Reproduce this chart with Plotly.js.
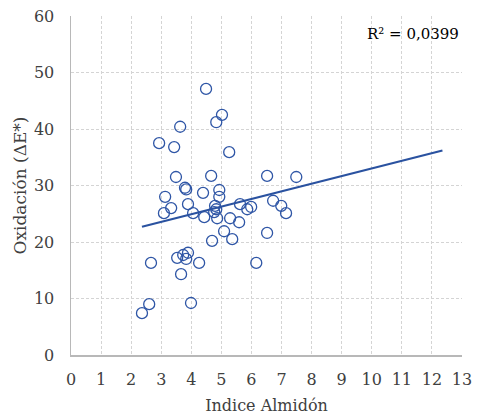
<!DOCTYPE html>
<html>
<head>
<meta charset="utf-8">
<script src="https://cdn.plot.ly/plotly-3.0.1.min.js"></script>
<style>html,body{margin:0;padding:0;background:#fff;}#chart{width:480px;height:418px;}</style>
</head>
<body>
<div id="chart"></div>
<script>
// Indice Almidón (x) vs Oxidación ΔE* (y)
var almidon = [4.49, 5.02, 4.83, 3.63, 2.93, 3.43, 5.26, 3.49, 4.66, 6.52, 7.49,
  3.79, 3.83, 4.39, 4.93, 4.93, 3.13, 3.89, 3.33, 3.09, 4.06, 4.43, 4.79, 4.83,
  4.76, 4.86, 5.29, 5.62, 5.59, 5.86, 5.99, 6.72, 6.99, 7.15, 5.09, 5.36, 6.52,
  4.69, 2.66, 3.53, 3.73, 3.89, 3.83, 4.26, 3.66, 6.16, 2.60, 2.36, 3.99];
var oxidacion = [47.1, 42.5, 41.2, 40.4, 37.5, 36.8, 35.9, 31.5, 31.7, 31.7, 31.5,
  29.6, 29.3, 28.7, 29.2, 28.0, 28.0, 26.7, 26.0, 25.1, 25.1, 24.4, 26.4, 25.8,
  25.3, 24.2, 24.2, 26.7, 23.5, 25.8, 26.2, 27.3, 26.4, 25.1, 21.9, 20.5, 21.6,
  20.2, 16.3, 17.2, 17.7, 18.1, 17.0, 16.3, 14.3, 16.3, 9.0, 7.4, 9.2];
// Linear trendline endpoints
var trendX = [2.36, 12.35];
var trendY = [22.7, 36.2];
var xTicks = [0,1,2,3,4,5,6,7,8,9,10,11,12,13];
var yTicks = [0,10,20,30,40,50,60];
var r2Label = "R² = 0,0399";

var blue = '#2f56a6';
var font = 'DejaVu Serif, Liberation Serif, serif';
var txt = '#404040';

var traces = [
  {x: almidon, y: oxidacion, type: 'scatter', mode: 'markers',
   marker: {symbol: 'circle-open', size: 11, color: blue, line: {width: 1.3, color: blue}},
   hoverinfo: 'skip', showlegend: false},
  {x: trendX, y: trendY, type: 'scatter', mode: 'lines',
   line: {color: '#2a52a0', width: 2.2}, hoverinfo: 'skip', showlegend: false}
];

var layout = {
  width: 480, height: 418,
  margin: {l: 71, r: 18, t: 16, b: 63},
  paper_bgcolor: '#fff', plot_bgcolor: '#fff',
  font: {family: font, size: 16, color: txt},
  showlegend: false,
  xaxis: {
    range: [0, 13], tickvals: xTicks, ticktext: xTicks.map(String),
    showgrid: true, gridcolor: '#d4d4d4', griddash: '3px,2px', gridwidth: 1,
    zeroline: false, showline: true, linecolor: '#b8b8b8', linewidth: 1.5,
    ticks: '', ticklabelstandoff: 9,
    tickfont: {family: font, size: 16, color: txt},
    title: {text: 'Indice Almidón', font: {family: font, size: 16, color: txt}, standoff: 12}
  },
  yaxis: {
    range: [0, 60], tickvals: yTicks, ticktext: yTicks.map(String),
    showgrid: true, gridcolor: '#d4d4d4', griddash: '3px,2px', gridwidth: 1,
    zeroline: false, showline: true, linecolor: '#b8b8b8', linewidth: 1.5,
    ticks: '', ticklabelstandoff: 12,
    tickfont: {family: font, size: 16, color: txt},
    title: {text: 'Oxidación (ΔE*)', font: {family: font, size: 17, color: txt}, standoff: 3}
  },
  annotations: [{
    xref: 'paper', yref: 'paper', x: 0.998, y: 0.98, xanchor: 'right', yanchor: 'top',
    text: r2Label, showarrow: false,
    font: {family: font, size: 15, color: '#000'}
  }]
};

Plotly.newPlot('chart', traces, layout, {displayModeBar: false, staticPlot: true});
</script>
</body>
</html>
